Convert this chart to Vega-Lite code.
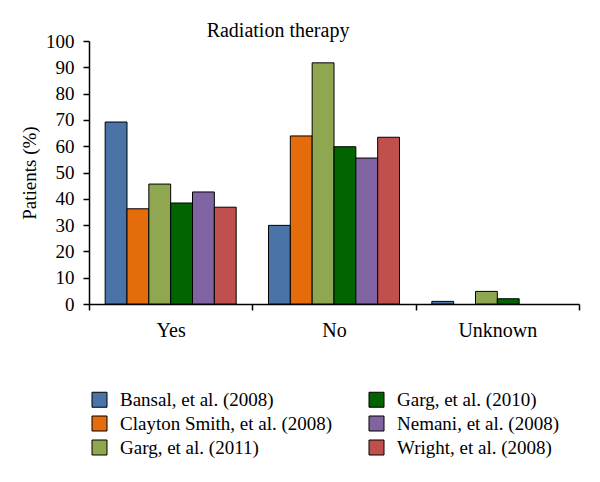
{
  "$schema": "https://vega.github.io/schema/vega-lite/v6.json",
  "autosize": {"type": "none"},
  "width": 490,
  "height": 263,
  "padding": {"left": 89, "top": 41, "right": 21, "bottom": 178},
  "background": "white",
  "config": {
    "view": {"stroke": null},
    "font": "Liberation Serif"
  },
  "title": {
    "text": "Radiation therapy",
    "font": "Liberation Serif",
    "fontSize": 20,
    "fontWeight": "normal",
    "color": "black",
    "anchor": "middle",
    "dx": -56,
    "offset": -9
  },
  "data": {
    "values": [
      {"cat": "Yes", "study": "Bansal, et al. (2008)", "value": 69.2},
      {"cat": "Yes", "study": "Clayton Smith, et al. (2008)", "value": 36.2},
      {"cat": "Yes", "study": "Garg, et al. (2011)", "value": 45.6},
      {"cat": "Yes", "study": "Garg, et al. (2010)", "value": 38.4},
      {"cat": "Yes", "study": "Nemani, et al. (2008)", "value": 42.6},
      {"cat": "Yes", "study": "Wright, et al. (2008)", "value": 36.8},
      {"cat": "No", "study": "Bansal, et al. (2008)", "value": 29.9},
      {"cat": "No", "study": "Clayton Smith, et al. (2008)", "value": 63.9},
      {"cat": "No", "study": "Garg, et al. (2011)", "value": 91.7},
      {"cat": "No", "study": "Garg, et al. (2010)", "value": 59.8},
      {"cat": "No", "study": "Nemani, et al. (2008)", "value": 55.5},
      {"cat": "No", "study": "Wright, et al. (2008)", "value": 63.4},
      {"cat": "Unknown", "study": "Bansal, et al. (2008)", "value": 1.0},
      {"cat": "Unknown", "study": "Clayton Smith, et al. (2008)", "value": 0},
      {"cat": "Unknown", "study": "Garg, et al. (2011)", "value": 4.8},
      {"cat": "Unknown", "study": "Garg, et al. (2010)", "value": 2.0},
      {"cat": "Unknown", "study": "Nemani, et al. (2008)", "value": 0},
      {"cat": "Unknown", "study": "Wright, et al. (2008)", "value": 0}
    ]
  },
  "transform": [{"filter": "datum.value > 0"}],
  "mark": {"type": "bar", "stroke": "black", "strokeWidth": 1},
  "encoding": {
    "x": {
      "field": "cat",
      "type": "nominal",
      "sort": ["Yes", "No", "Unknown"],
      "scale": {"paddingInner": 0, "paddingOuter": 0},
      "axis": {
        "title": null,
        "labelAngle": 0,
        "labelFont": "Liberation Serif",
        "labelFontSize": 20,
        "labelColor": "black",
        "labelPadding": 10,
        "domainColor": "black",
        "domainWidth": 1.5,
        "tickColor": "black",
        "tickWidth": 1.5,
        "tickSize": 6,
        "tickBand": "extent"
      }
    },
    "xOffset": {
      "field": "study",
      "type": "nominal",
      "sort": ["Bansal, et al. (2008)", "Clayton Smith, et al. (2008)", "Garg, et al. (2011)", "Garg, et al. (2010)", "Nemani, et al. (2008)", "Wright, et al. (2008)"],
      "scale": {
        "domain": ["Bansal, et al. (2008)", "Clayton Smith, et al. (2008)", "Garg, et al. (2011)", "Garg, et al. (2010)", "Nemani, et al. (2008)", "Wright, et al. (2008)"],
        "paddingInner": 0,
        "paddingOuter": 0.74
      }
    },
    "y": {
      "field": "value",
      "type": "quantitative",
      "scale": {"domain": [0, 100], "nice": false},
      "axis": {
        "title": "Patients (%)",
        "titleFont": "Liberation Serif",
        "titleFontSize": 19,
        "titleFontWeight": "normal",
        "titleColor": "black",
        "titlePadding": 6,
        "values": [0, 10, 20, 30, 40, 50, 60, 70, 80, 90, 100],
        "grid": false,
        "labelFont": "Liberation Serif",
        "labelFontSize": 19,
        "labelColor": "black",
        "labelPadding": 9,
        "domainColor": "black",
        "domainWidth": 1.5,
        "tickColor": "black",
        "tickWidth": 1.5,
        "tickSize": 6
      }
    },
    "color": {
      "field": "study",
      "type": "nominal",
      "scale": {
        "domain": ["Bansal, et al. (2008)", "Clayton Smith, et al. (2008)", "Garg, et al. (2011)", "Garg, et al. (2010)", "Nemani, et al. (2008)", "Wright, et al. (2008)"],
        "range": ["#4A74A8", "#E46C0A", "#8EA750", "#016401", "#8064A2", "#C0504D"]
      },
      "legend": {
        "title": null,
        "orient": "none",
        "legendX": 1,
        "legendY": 349,
        "columns": 2,
        "columnPadding": 34,
        "rowPadding": 4,
        "symbolType": "square",
        "symbolSize": 225,
        "symbolStrokeColor": "black",
        "symbolStrokeWidth": 1,
        "labelFont": "Liberation Serif",
        "labelFontSize": 19,
        "labelColor": "black",
        "labelOffset": 11,
        "labelLimit": 400
      }
    }
  }
}
